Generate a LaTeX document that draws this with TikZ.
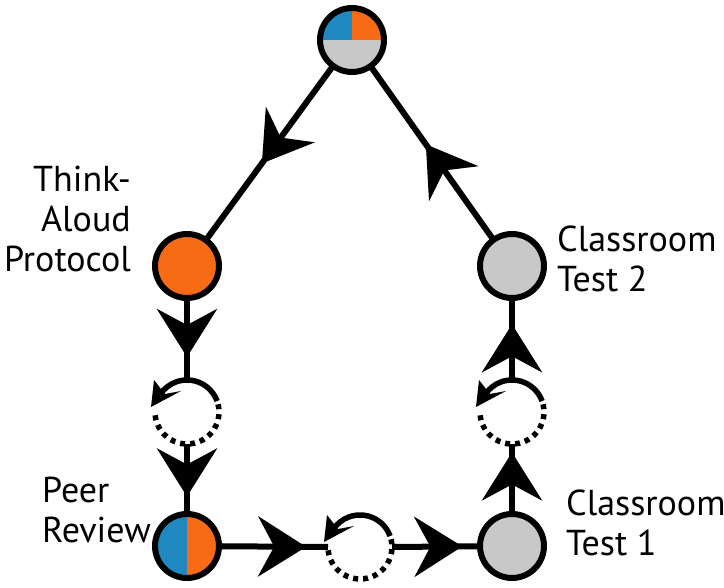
\documentclass[tikz,border=0pt]{standalone}
\usepackage{fontspec}
\setmainfont{PT Sans}
\usetikzlibrary{arrows.meta,decorations.markings}

\definecolor{cblue}{HTML}{1F88C0}
\definecolor{corange}{HTML}{F86B15}
\definecolor{cgray}{HTML}{C8C8C8}

\tikzset{
  stage/.style={circle, draw=black, line width=6pt, minimum size=64pt,
    inner sep=0pt, outer sep=0pt},
  ring/.style={circle, minimum size=64pt, inner sep=0pt, outer sep=0pt},
  flow/.style={line width=6pt, postaction={decorate},
    decoration={markings, mark=at position #1 with {\arrow{Stealth[length=48pt, width=60pt, inset=16pt]}}}},
  turn/.style={line width=5.5pt},
  retry/.style={line width=5.5pt, dash pattern=on 5pt off 5pt},
  lbl/.style={font=\fontsize{36}{40}\selectfont, inner sep=0pt},
}

\begin{document}
\begin{tikzpicture}[x=1pt, y=-1pt]
  \useasboundingbox (0,0) rectangle (724,588);

  % stage circles
  \node[stage, fill=cgray, path picture={
      \fill[cblue] (path picture bounding box.center) rectangle (path picture bounding box.north west);
      \fill[corange] (path picture bounding box.center) rectangle (path picture bounding box.north east);
    }] (top) at (352,40) {};
  \node[stage, fill=corange] (ta) at (187,266) {};
  \node[stage, fill=cgray] (t2) at (512,266) {};
  \node[stage, fill=corange, path picture={
      \fill[cblue] (path picture bounding box.south west) rectangle (path picture bounding box.north);
    }] (pr) at (187,546) {};
  \node[stage, fill=cgray] (t1) at (512,546) {};

  % small iteration loops: solid upper arc ending in a head, dotted lower arc
  \node[ring] (la) at (187,412) {};
  \node[ring] (lb) at (360,547) {};
  \node[ring] (lc) at (512,412) {};

  \foreach \c in {la,lb,lc}{
    \draw[turn] (\c) ++(-20:32) arc[start angle=-20, end angle=-145, radius=32];
    \fill (\c) ++(-36,-5) -- ++(3,-27) -- ++(11,14) -- ++(16,-3) -- cycle;
    \draw[retry] (\c) ++(-14:32) arc[start angle=-14, end angle=180, radius=32];
  }

  % connectors
  \draw[flow=0.56] (top) -- (ta);
  \draw[flow=0.72] (ta) -- (la.north);
  \draw[flow=0.75] (la.south) -- (pr);
  \draw[flow=0.8] (pr) -- (lb.west);
  \draw[flow=0.8] (lb.east) -- (t1);
  \draw[flow=0.88] (t1) -- (lc.south);
  \draw[flow=0.68] (lc.north) -- (t2);
  \draw[flow=0.55] (t2) -- (top);

  % labels
  \node[lbl, align=right, anchor=base east] (lta) at (131,272) {Think-\\Aloud\\Protocol};
  \node[lbl, align=left, anchor=base west] (lt2) at (557,292) {Classroom\\Test 2};
  \node[lbl, align=left, anchor=base west] (lpr) at (42,542) {Peer\\Review};
  \node[lbl, align=left, anchor=base west] (lt1) at (566,555) {Classroom\\Test 1};
\end{tikzpicture}
\end{document}
